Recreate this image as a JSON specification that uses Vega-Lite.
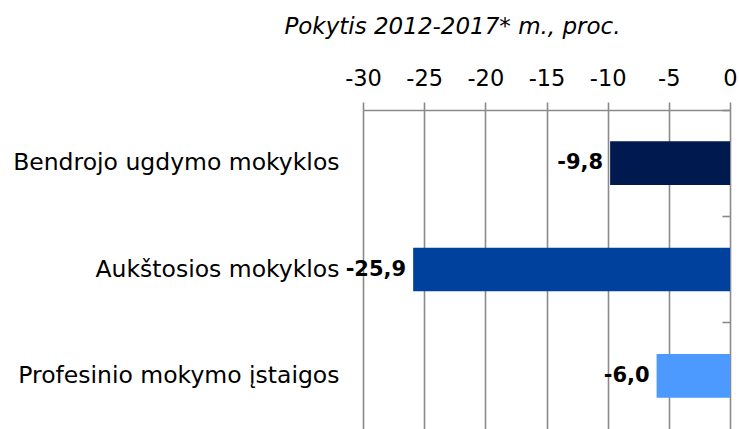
{
  "$schema": "https://vega.github.io/schema/vega-lite/v6.json",
  "autosize": "none",
  "width": 367,
  "height": 319,
  "padding": {"left": 363, "top": 110, "right": 9, "bottom": 0},
  "title": {
    "text": "Pokytis 2012-2017* m., proc.",
    "anchor": "middle",
    "dx": -94,
    "font": "DejaVu Sans",
    "fontStyle": "italic",
    "fontWeight": "normal",
    "fontSize": 23,
    "color": "#000000",
    "offset": 28
  },
  "data": {
    "values": [
      {"kategorija": "Bendrojo ugdymo mokyklos", "pokytis": -9.8},
      {"kategorija": "Aukštosios mokyklos", "pokytis": -25.9},
      {"kategorija": "Profesinio mokymo įstaigos", "pokytis": -6.0}
    ]
  },
  "encoding": {
    "y": {
      "field": "kategorija",
      "type": "nominal",
      "sort": ["Bendrojo ugdymo mokyklos", "Aukštosios mokyklos", "Profesinio mokymo įstaigos"],
      "scale": {"paddingInner": 0, "paddingOuter": 0},
      "title": null
    },
    "x": {
      "field": "pokytis",
      "type": "quantitative",
      "scale": {"domain": [-30, 0], "nice": false, "zero": false},
      "title": null,
      "axis": {
        "orient": "top",
        "values": [-30, -25, -20, -15, -10, -5, 0],
        "grid": true,
        "gridColor": "#8a8a8a",
        "gridWidth": 1.6,
        "gridOpacity": 1,
        "domainColor": "#8a8a8a",
        "domainWidth": 1.6,
        "tickColor": "#8a8a8a",
        "tickWidth": 1.6,
        "tickSize": 8,
        "labelFont": "DejaVu Sans",
        "labelFontSize": 22.5,
        "labelColor": "#000000",
        "labelPadding": 12,
        "labelFlush": false,
        "labelOverlap": false
      }
    }
  },
  "layer": [
    {
      "mark": {"type": "bar", "height": {"band": 0.41}},
      "encoding": {
        "color": {
          "field": "kategorija",
          "type": "nominal",
          "scale": {
            "domain": ["Bendrojo ugdymo mokyklos", "Aukštosios mokyklos", "Profesinio mokymo įstaigos"],
            "range": ["#001a4f", "#00419e", "#4c9aff"]
          },
          "legend": null
        },
        "y": {
          "field": "kategorija",
          "type": "nominal",
          "sort": ["Bendrojo ugdymo mokyklos", "Aukštosios mokyklos", "Profesinio mokymo įstaigos"],
          "title": null,
          "axis": {
            "orient": "left",
            "ticks": false,
            "domain": false,
            "labelFont": "DejaVu Sans",
            "labelFontSize": 23.5,
            "labelColor": "#000000",
            "labelPadding": 24,
            "labelLimit": 400
          }
        }
      }
    },
    {
      "mark": {
        "type": "text",
        "align": "right",
        "baseline": "middle",
        "dx": -7,
        "font": "DejaVu Sans",
        "fontWeight": "bold",
        "fontSize": 21,
        "color": "#000000"
      },
      "encoding": {
        "text": {"field": "pokytis", "type": "quantitative", "format": ".1f"},
        "y": {
          "field": "kategorija",
          "type": "nominal",
          "sort": ["Bendrojo ugdymo mokyklos", "Aukštosios mokyklos", "Profesinio mokymo įstaigos"],
          "title": null,
          "axis": {
            "orient": "right",
            "labels": false,
            "domain": false,
            "ticks": true,
            "bandPosition": 0,
            "tickSize": 8,
            "tickColor": "#8a8a8a",
            "tickWidth": 1.6,
            "offset": -8
          }
        }
      }
    }
  ],
  "resolve": {"axis": {"y": "independent"}},
  "config": {
    "view": {"stroke": null},
    "locale": {
      "number": {"decimal": ",", "thousands": " ", "grouping": [3], "currency": ["", ""], "minus": "-"}
    }
  }
}
